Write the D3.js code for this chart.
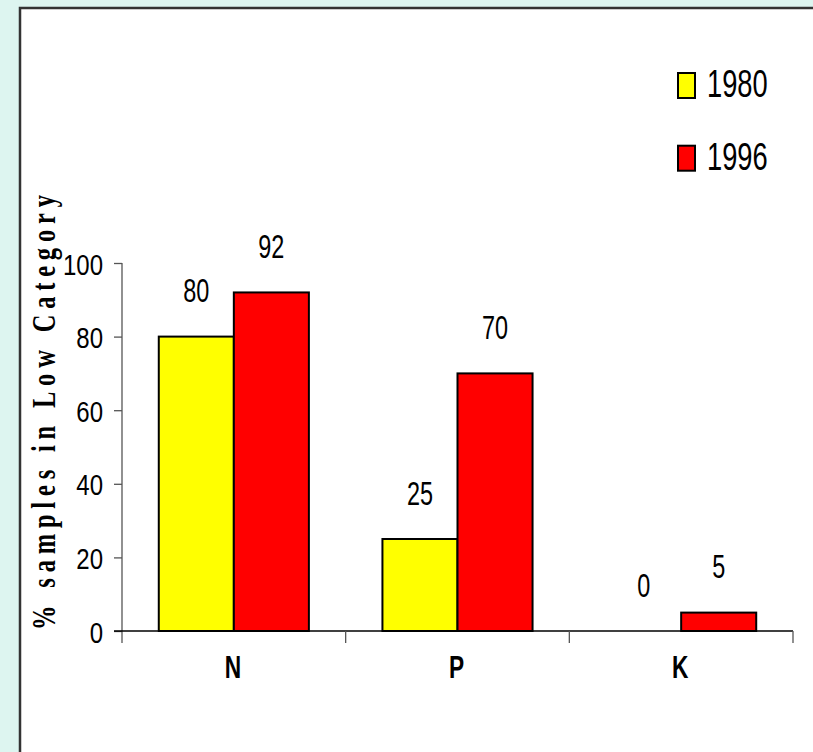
<!DOCTYPE html>
<html>
<head>
<meta charset="utf-8">
<script src="https://cdn.jsdelivr.net/npm/d3@7"></script>
<style>
  html, body { margin: 0; padding: 0; background: #ddf5f0; }
  svg { display: block; }
</style>
</head>
<body>
<script>
// Nutrient categories and the share of samples rated "low" in each survey year
const categories = ["N", "P", "K"];
const seriesNames = ["1980", "1996"];
const values1980 = [80, 25, 0];
const values1996 = [92, 70, 5];
const seriesColors = ["#ffff00", "#ff0000"];
const yTicks = [0, 20, 40, 60, 80, 100];
const yTitle = "% samples in Low Category";

const W = 813, H = 752;
const svg = d3.select("body").append("svg").attr("width", W).attr("height", H);

// page background and white panel with a dark edge on the top and left
svg.append("rect").attr("width", W).attr("height", H).attr("fill", "#ddf5f0");
svg.append("rect").attr("x", 20).attr("y", 8).attr("width", W).attr("height", H)
  .attr("fill", "#fff");
svg.append("path").attr("d", `M20,${H} V8 H${W}`)
  .attr("fill", "none").attr("stroke", "#333").attr("stroke-width", 2.5);

const plotLeft = 122, plotRight = 793, plotTop = 263, plotBottom = 631;

const x0 = d3.scaleBand().domain(categories).range([plotLeft, plotRight]).padding(0);
const x1 = d3.scaleBand().domain(seriesNames).range([0, x0.bandwidth()])
  .paddingInner(0).paddingOuter(0.49);
const y = d3.scaleLinear().domain([0, 100]).range([plotBottom, plotTop]);

// condensed sans text is drawn with Liberation Sans squeezed horizontally
const sans = "'Liberation Sans', Arial, sans-serif";

const rows = categories.map((c, i) => ({ cat: c, vals: [values1980[i], values1996[i]] }));

// bars
const groups = svg.append("g").selectAll("g").data(rows).join("g")
  .attr("transform", d => `translate(${x0(d.cat)},0)`);

groups.selectAll("rect")
  .data(d => d.vals.map((v, j) => ({ v, s: seriesNames[j], j })))
  .join("rect")
  .attr("x", d => x1(d.s))
  .attr("y", d => y(d.v))
  .attr("width", x1.bandwidth())
  .attr("height", d => y(0) - y(d.v))
  .attr("fill", d => seriesColors[d.j])
  .attr("stroke", d => d.v > 0 ? "#000" : "none")
  .attr("stroke-width", 2);

// value labels above each bar
groups.selectAll("text")
  .data(d => d.vals.map((v, j) => ({ v, s: seriesNames[j] })))
  .join("text")
  .attr("transform", d => `translate(${x1(d.s) + x1.bandwidth() / 2},${y(d.v) - 34.5}) scale(0.69,1)`)
  .attr("text-anchor", "middle")
  .style("font-family", sans)
  .style("font-size", "34px")
  .attr("fill", "#000")
  .text(d => d.v);

// y axis
const yAxis = svg.append("g").attr("transform", `translate(${plotLeft},0)`)
  .call(d3.axisLeft(y).tickValues(yTicks).tickSize(8).tickPadding(0).tickFormat(d3.format("d")));
yAxis.select(".domain").remove();
yAxis.selectAll(".tick line").attr("stroke", "#555").attr("stroke-width", 1.3);
yAxis.selectAll(".tick text")
  .attr("x", null).attr("dy", null)
  .attr("transform", "translate(-19,11) scale(0.8,1)")
  .style("font-family", sans).style("font-size", "30px").attr("fill", "#000");
svg.append("line")
  .attr("x1", plotLeft).attr("x2", plotLeft)
  .attr("y1", y(100)).attr("y2", plotBottom + 12)
  .attr("stroke", "#555").attr("stroke-width", 1.3);

// x axis with tick marks on category boundaries
svg.append("line")
  .attr("x1", plotLeft - 8).attr("x2", plotRight)
  .attr("y1", plotBottom).attr("y2", plotBottom)
  .attr("stroke", "#000").attr("stroke-width", 1.5);
const boundaries = categories.map(c => x0(c)).concat([x0(categories[categories.length - 1]) + x0.bandwidth()]);
svg.append("g").selectAll("line").data(boundaries.slice(1)).join("line")
  .attr("x1", d => d).attr("x2", d => d)
  .attr("y1", plotBottom).attr("y2", plotBottom + 12)
  .attr("stroke", "#555").attr("stroke-width", 1.3);

svg.append("g").selectAll("text").data(categories).join("text")
  .attr("transform", d => `translate(${x0(d) + x0.bandwidth() / 2 - 1},678) scale(0.71,1)`)
  .attr("text-anchor", "middle")
  .style("font-family", sans).style("font-size", "32px").style("font-weight", "bold")
  .text(d => d);

// y axis title, letters spread out along the axis
svg.append("text")
  .attr("transform", "translate(55,412.5) rotate(-90) scale(0.72,1)")
  .attr("text-anchor", "middle")
  .attr("textLength", 604)
  .attr("lengthAdjust", "spacing")
  .style("font-family", "'Liberation Serif', 'Times New Roman', serif")
  .style("font-size", "34px").style("font-weight", "bold")
  .text(yTitle);

// legend
const legend = svg.append("g").selectAll("g").data(seriesNames).join("g")
  .attr("transform", (d, i) => `translate(678,${73 + i * 72.7})`);
legend.append("rect")
  .attr("width", 17).attr("height", 25)
  .attr("fill", (d, i) => seriesColors[i])
  .attr("stroke", "#000").attr("stroke-width", 2);
legend.append("text")
  .attr("transform", "translate(29,24) scale(0.70,1)")
  .style("font-family", sans).style("font-size", "39px")
  .text(d => d);
</script>
</body>
</html>
